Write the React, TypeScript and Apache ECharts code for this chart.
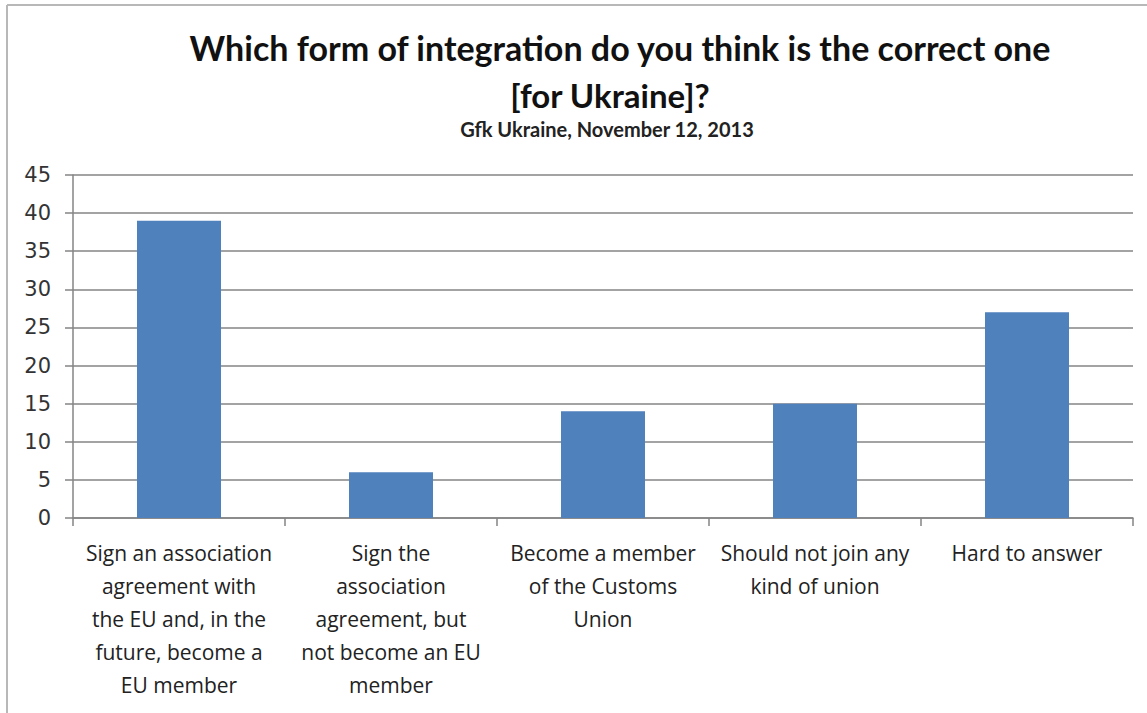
import React, { useEffect, useRef } from "react";
import * as echarts from "echarts";

const categories = [
  "Sign an association\nagreement with\nthe EU and, in the\nfuture, become a\nEU member",
  "Sign the\nassociation\nagreement, but\nnot become an EU\nmember",
  "Become a member\nof the Customs\nUnion",
  "Should not join any\nkind of union",
  "Hard to answer",
];
const values = [39, 6, 14, 15, 27];
const titleLine1 = "Which form of integration do you think is the correct one";
const titleLine2 = "[for Ukraine]?";
const subtitle = "Gfk Ukraine, November 12, 2013";

export default function App() {
  const ref = useRef<HTMLDivElement>(null);
  useEffect(() => {
    if (!ref.current) return;
    const chart = echarts.init(ref.current, null, { renderer: "svg" });
    chart.setOption({
      animation: false,
      backgroundColor: "#ffffff",
      grid: { left: 73, right: 14, top: 175, bottom: 195, containLabel: false },
      xAxis: {
        type: "category",
        data: categories,
        axisLine: { show: true, lineStyle: { color: "#858585", width: 1.5 } },
        axisTick: { show: true, alignWithLabel: false, length: 8, lineStyle: { color: "#858585", width: 1.5 } },
        axisLabel: {
          interval: 0,
          fontFamily: "Open Sans",
          fontSize: 21,
          lineHeight: 33,
          margin: 18,
          color: "#222222",
          align: "center",
        },
        splitLine: { show: false },
      },
      yAxis: {
        type: "value",
        min: 0,
        max: 45,
        interval: 5,
        axisLine: { show: true, lineStyle: { color: "#858585", width: 1.5 } },
        axisTick: { show: true, length: 8, lineStyle: { color: "#858585", width: 1.5 } },
        axisLabel: {
          fontFamily: "DejaVu Sans",
          fontSize: 21,
          color: "#333333",
          margin: 22,
        },
        splitLine: { show: true, lineStyle: { color: "#858585", width: 1.5 } },
      },
      series: [
        {
          type: "bar",
          data: values,
          barWidth: 84,
          itemStyle: { color: "#4f81bd" },
        },
      ],
      graphic: [
        {
          type: "line",
          shape: { x1: 7, y1: 5, x2: 1147, y2: 5 },
          style: { stroke: "#b8b8b8", lineWidth: 2 },
        },
        {
          type: "line",
          shape: { x1: 7, y1: 5, x2: 7, y2: 713 },
          style: { stroke: "#b8b8b8", lineWidth: 2 },
        },
        {
          type: "text",
          x: 620,
          y: 47,
          style: {
            text: titleLine1,
            font: "bold 34px Lato",
            fill: "#111111",
            textAlign: "center",
            textVerticalAlign: "middle",
          },
        },
        {
          type: "text",
          x: 610,
          y: 95,
          style: {
            text: titleLine2,
            font: "bold 33px Lato",
            fill: "#111111",
            textAlign: "center",
            textVerticalAlign: "middle",
          },
        },
        {
          type: "text",
          x: 607,
          y: 129,
          style: {
            text: subtitle,
            font: "bold 20px Lato",
            fill: "#222222",
            textAlign: "center",
            textVerticalAlign: "middle",
          },
        },
      ],
    });
    return () => chart.dispose();
  }, []);
  return (
    <div
      ref={ref}
      style={{ position: "absolute", left: 0, top: 0, width: 1147, height: 713 }}
    />
  );
}
